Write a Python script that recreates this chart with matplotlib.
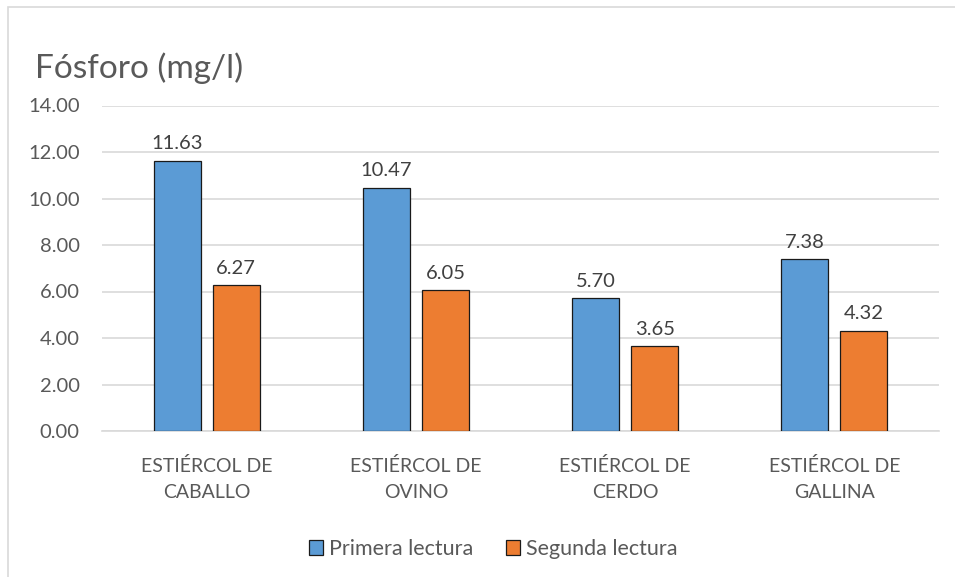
import matplotlib
matplotlib.use("Agg")
import matplotlib.pyplot as plt
from matplotlib.patches import Rectangle
import numpy as np

categories = ["ESTIÉRCOL DE\nCABALLO", "ESTIÉRCOL DE\nOVINO", "ESTIÉRCOL DE\nCERDO", "ESTIÉRCOL DE\nGALLINA"]
series_names = ["Primera lectura", "Segunda lectura"]
primera = [11.63, 10.47, 5.70, 7.38]
segunda = [6.27, 6.05, 3.65, 4.32]
yticks = [0, 2, 4, 6, 8, 10, 12, 14]
title = "Fósforo (mg/l)"

plt.rcParams['font.family'] = ['Lato', 'DejaVu Sans']

W, H = 955, 577
fig = plt.figure(figsize=(W / 100, H / 100), dpi=100)
fig.patch.set_facecolor("white")

# chart border (light gray), extends beyond right/bottom
fig.add_artist(Rectangle((8 / W, -0.05), 1.2, 1 - 7 / H + 0.05, transform=fig.transFigure,
                         fill=False, edgecolor="#D9D9D9", linewidth=1.2))

ax = fig.add_axes([102 / W, 1 - 431 / H, (939 - 102) / W, (431 - 105.5) / H])

x = np.arange(len(categories))
bw = 0.225
off = 0.141
c1, c2 = "#5B9BD5", "#ED7D31"
b1 = ax.bar(x - off, primera, bw, color=c1, edgecolor="#1a1a1a", linewidth=0.9, zorder=3, label=series_names[0])
b2 = ax.bar(x + off, segunda, bw, color=c2, edgecolor="#1a1a1a", linewidth=0.9, zorder=3, label=series_names[1])

for bars, vals in ((b1, primera), (b2, segunda)):
    for r, v in zip(bars, vals):
        ax.annotate(f"{v:.2f}", (r.get_x() + r.get_width() / 2, v), xytext=(0, 6),
                    textcoords="offset points", ha="center", va="bottom",
                    fontsize=14.5, color="#404040")

ax.set_xlim(-0.5, len(categories) - 0.5)
ax.set_ylim(0, 14)
ax.set_yticks(yticks)
ax.set_yticklabels([f"{v:.2f}" for v in yticks], fontsize=14.5, color="#595959")
ax.set_xticks(x)
ax.set_xticklabels(categories, fontsize=14, color="#595959", linespacing=1.65)
ax.tick_params(axis="both", length=0)
ax.tick_params(axis="y", pad=16)
ax.tick_params(axis="x", pad=19)
ax.grid(axis="y", color="#D9D9D9", linewidth=1.2, zorder=0)
for s in ["top", "right", "left"]:
    ax.spines[s].set_visible(False)
ax.spines["bottom"].set_color("#D9D9D9")
ax.spines["bottom"].set_linewidth(1.2)

fig.text(35 / W, 1 - 68 / H, title, fontsize=24, color="#595959", ha="left", va="center")

leg = fig.legend(handles=[b1, b2], labels=series_names, loc="center",
                 bbox_to_anchor=(493 / W, 1 - 549 / H), ncol=2, frameon=False,
                 fontsize=15.5, handlelength=0.65, handleheight=0.65, handletextpad=0.3,
                 columnspacing=1.5)
for t in leg.get_texts():
    t.set_color("#595959")

fig.savefig("out.png", dpi=100, facecolor="white")
